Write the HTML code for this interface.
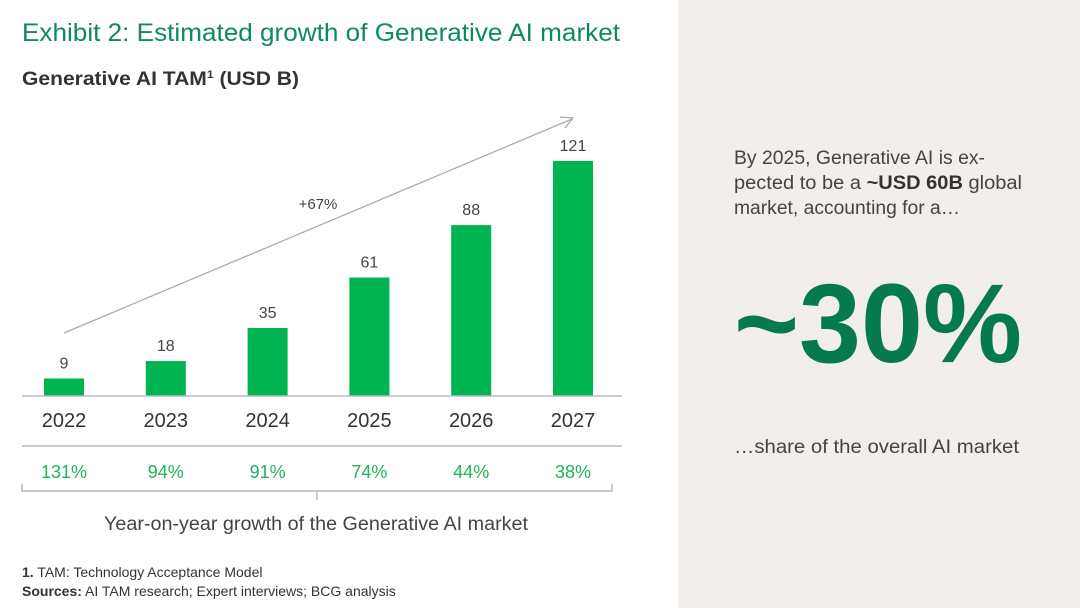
<!DOCTYPE html>
<html><head><meta charset="utf-8"><style>
body{margin:0;width:1080px;height:608px;overflow:hidden;background:#fff;font-family:"Liberation Sans",sans-serif}
svg{display:block}
</style></head><body>
<svg id="chart" width="1080" height="608" viewBox="0 0 1080 608" xmlns="http://www.w3.org/2000/svg" font-family="Liberation Sans, sans-serif">
<rect x="678" y="0" width="402" height="608" fill="#f2eeeb"/>
<text x="22" y="41" font-size="25" fill="#0f8a5a" textLength="598" lengthAdjust="spacingAndGlyphs">Exhibit 2: Estimated growth of Generative AI market</text>
<text x="22" y="85" font-size="19" font-weight="bold" fill="#333" textLength="277" lengthAdjust="spacingAndGlyphs">Generative AI TAM<tspan font-size="11" dy="-7">1</tspan><tspan dy="7" font-weight="normal"> </tspan><tspan>(USD B)</tspan></text>
<g id="bars"></g>
<line x1="22" y1="396" x2="622" y2="396" stroke="#bbb" stroke-width="1.5"/>
<line x1="22" y1="446" x2="622" y2="446" stroke="#bbb" stroke-width="1.5"/>
<path d="M22 484 V491 H612 V484 M317 491 V500" fill="none" stroke="#aaa" stroke-width="1.2"/>
<text x="316" y="530" font-size="19" fill="#444" text-anchor="middle" textLength="424" lengthAdjust="spacingAndGlyphs">Year-on-year growth of the Generative AI market</text>
<line x1="64" y1="333" x2="572" y2="119" stroke="#aaa" stroke-width="1.3"/>
<path d="M560 117 L573 118 L565 128" fill="none" stroke="#aaa" stroke-width="1.3"/>
<text x="318" y="209" font-size="15" fill="#444" text-anchor="middle">+67%</text>
<text x="22" y="577" font-size="14" fill="#333"><tspan font-weight="bold">1.</tspan> TAM: Technology Acceptance Model</text>
<text x="22" y="596" font-size="14" fill="#333"><tspan font-weight="bold">Sources:</tspan> AI TAM research; Expert interviews; BCG analysis</text>
<text x="734" y="164" font-size="19" fill="#444" textLength="251" lengthAdjust="spacingAndGlyphs">By 2025, Generative AI is ex-</text>
<text x="734" y="189" font-size="19" fill="#444" textLength="288" lengthAdjust="spacingAndGlyphs">pected to be a <tspan font-weight="bold" fill="#333">~USD 60B</tspan> global</text>
<text x="734" y="214" font-size="19" fill="#444" textLength="226" lengthAdjust="spacingAndGlyphs">market, accounting for a…</text>
<text x="734" y="362" font-size="112" font-weight="bold" fill="#067a4f" textLength="288" lengthAdjust="spacingAndGlyphs">~30%</text>
<text x="734" y="453" font-size="19" fill="#444" textLength="285" lengthAdjust="spacingAndGlyphs">…share of the overall AI market</text>
</svg>
<script>
const years = ["2022","2023","2024","2025","2026","2027"];
const values = [9,18,35,61,88,121];
const growth = ["131%","94%","91%","74%","44%","38%"];
const NS="http://www.w3.org/2000/svg";
const g=document.getElementById('bars');
const baseY=396, pxPerUnit=235/121, x0=64, step=101.8, bw=40;
const xs=i=>x0+i*step, ys=v=>baseY-v*pxPerUnit;
function mk(t,a){const e=document.createElementNS(NS,t);for(const k in a)e.setAttribute(k,a[k]);g.appendChild(e);return e;}
years.forEach((y,i)=>{
 const cx=xs(i), top=ys(values[i]);
 const r=mk('rect',{x:cx-bw/2,y:top,width:bw,height:baseY-top,fill:'#00b451'});
 
 
 const v=mk('text',{x:cx,y:top-10,'font-size':16,fill:'#444','text-anchor':'middle'});v.textContent=values[i];
 
 
 const yl=mk('text',{x:cx,y:427,'font-size':20,fill:'#333','text-anchor':'middle'});yl.textContent=y;
 
 
 const gl=mk('text',{x:cx,y:478,'font-size':18,fill:'#1fb45a','text-anchor':'middle'});gl.textContent=growth[i];
 
 
});
</script>
</body></html>
